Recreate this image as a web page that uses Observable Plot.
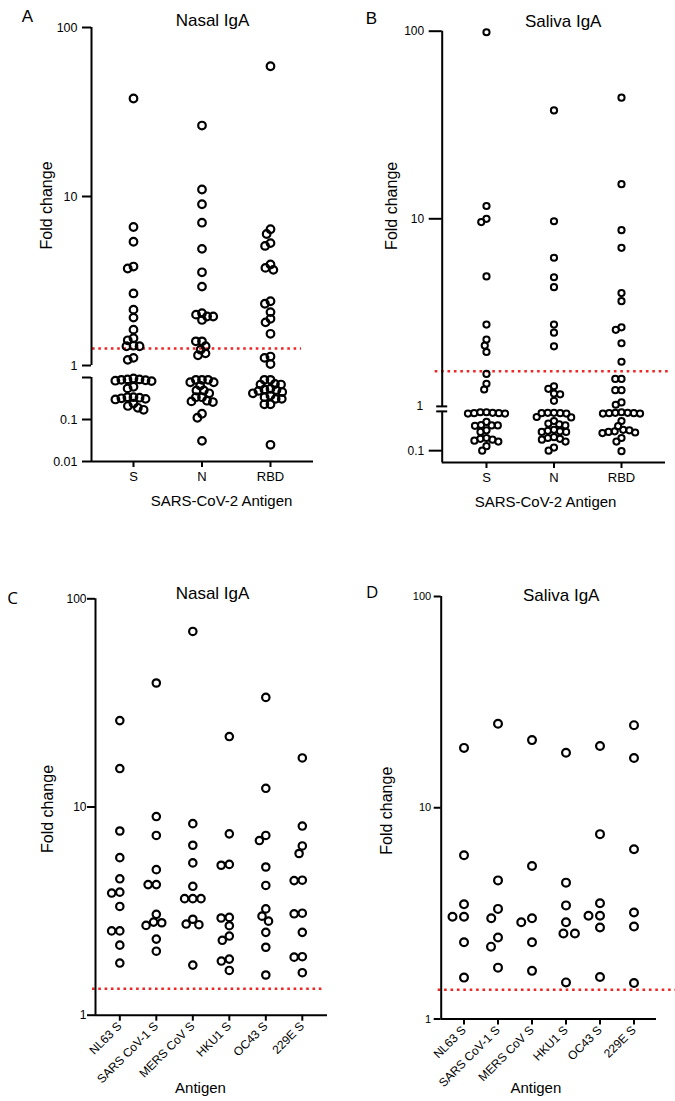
<!DOCTYPE html>
<html>
<head>
<meta charset="utf-8">
<script src="https://cdn.jsdelivr.net/npm/d3@7"></script>
<script src="https://cdn.jsdelivr.net/npm/@observablehq/plot@0.6"></script>
<style>
html, body { margin: 0; padding: 0; background: #fff; }
#root { position: relative; width: 675px; height: 1101px; overflow: hidden; font-family: "Liberation Sans", Arial, sans-serif; }
.panel { position: absolute; }
</style>
</head>
<body>
<div id="root"></div>
<script>
// ---------------- DATA ----------------
const cov2Antigens = ["S", "N", "RBD"];
const hcovAntigens = ["NL63 S", "SARS CoV-1 S", "MERS CoV S", "HKU1 S", "OC43 S", "229E S"];

// Panel A: Nasal IgA, SARS-CoV-2 antigens (fold change)
const nasalS = [38, 6.6, 5.4, 3.85, 3.75, 2.67, 2.14, 1.92, 1.63, 1.45, 1.41, 1.30, 1.30, 1.31, 1.11, 1.08,
  0.90, 0.86, 0.95, 0.88, 0.84, 0.90, 0.82, 0.60, 0.55, 0.34, 0.31, 0.33, 0.30, 0.34, 0.32, 0.24, 0.19, 0.21, 0.17];
const nasalN = [26.3, 11, 9.0, 7.0, 4.9, 3.56, 2.93, 2.04, 2.0, 1.95, 1.95, 1.86, 1.39, 1.39, 1.30, 1.24, 1.18, 1.15,
  0.77, 0.88, 0.77, 0.88, 0.88, 0.64, 0.49, 0.42, 0.49, 0.34, 0.34, 0.27, 0.28, 0.26, 0.137, 0.11, 0.031];
const nasalRBD = [59, 6.4, 6.0, 5.3, 5.1, 3.96, 3.78, 3.68, 2.40, 2.32, 2.07, 1.89, 1.80, 1.54, 1.13, 1.11, 1.02,
  0.88, 0.88, 0.68, 0.70, 0.68, 0.54, 0.50, 0.45, 0.52, 0.48, 0.42, 0.31, 0.37, 0.34, 0.31, 0.23, 0.23, 0.025];

// Panel B: Saliva IgA, SARS-CoV-2 antigens
const salivaS = [98.7, 11.7, 10.0, 9.6, 4.93, 2.73, 2.27, 2.11, 1.95, 1.49, 1.32, 1.23,
  0.92, 0.95, 0.90, 0.88, 0.88, 0.90, 0.95, 0.54, 0.45, 0.44, 0.43, 0.44, 0.33, 0.30, 0.21, 0.19, 0.20, 0.18, 0.17, 0.13, 0.10];
const salivaN = [37.8, 9.7, 6.2, 4.88, 4.32, 2.73, 2.47, 2.09, 1.28, 1.24, 1.17, 1.16, 1.07,
  0.90, 0.92, 0.88, 0.92, 0.90, 0.72, 0.70, 0.44, 0.49, 0.47, 0.57, 0.34, 0.30, 0.31, 0.30, 0.32, 0.22, 0.17, 0.20, 0.19, 0.21, 0.10, 0.12];
const salivaRBD = [44.2, 15.3, 8.7, 7.0, 4.02, 3.64, 2.64, 2.56, 2.17, 1.73, 1.40, 1.40, 1.22, 1.22, 1.05, 1.02,
  0.90, 0.92, 0.88, 0.95, 0.92, 0.88, 0.90, 0.57, 0.42, 0.34, 0.30, 0.29, 0.31, 0.28, 0.33, 0.21, 0.17, 0.097];

// Panel C: Nasal IgA, other coronavirus spike antigens
const nasalNL63 = [26.0, 15.3, 7.67, 5.71, 4.52, 3.90, 3.86, 3.33, 2.54, 2.54, 2.17, 1.78];
const nasalSARS1 = [39.4, 9.0, 7.3, 5.0, 4.24, 4.24, 3.05, 2.78, 2.80, 2.70, 2.32, 2.03];
const nasalMERS = [69.7, 8.32, 6.55, 5.39, 4.16, 3.63, 3.63, 3.63, 2.89, 2.72, 2.74, 1.74];
const nasalHKU1 = [21.8, 7.43, 5.25, 5.3, 2.93, 2.95, 2.69, 2.40, 2.29, 1.86, 1.82, 1.64];
const nasalOC43 = [33.6, 12.3, 7.3, 6.9, 5.15, 4.2, 3.24, 2.99, 2.83, 2.5, 2.12, 1.56];
const nasal229E = [17.2, 8.1, 6.5, 5.98, 4.43, 4.45, 3.07, 3.09, 2.5, 1.9, 1.91, 1.6];

// Panel D: Saliva IgA, other coronavirus spike antigens
const salivaNL63 = [19.2, 5.96, 3.49, 3.05, 3.05, 2.31, 1.57];
const salivaSARS1 = [25.0, 4.53, 3.32, 3.0, 2.43, 2.2, 1.75];
const salivaMERS = [20.9, 5.3, 2.87, 3.0, 2.31, 1.69];
const salivaHKU1 = [18.2, 4.42, 3.45, 2.87, 2.54, 2.54, 1.49];
const salivaOC43 = [19.6, 7.5, 3.53, 3.08, 3.08, 2.71, 1.58];
const saliva229E = [24.6, 17.2, 6.36, 3.19, 2.74, 1.48];

// Cut-off lines (fold change)
const cutoffA = 1.26, cutoffB = 1.54, cutoffC = 1.34, cutoffD = 1.375;

// Tick labels
const yTicksBrokenA = [100, 10, 1, 0.1, 0.01];
const yTickLabelsA = ["100", "10", "1", "0.1", "0.01"];
const yTicksLog = [100, 10, 1];
const yTickLabelsLog = ["100", "10", "1"];

// ---------------- HELPERS ----------------
const FONT = "'Liberation Sans', Arial, Helvetica, sans-serif";
const RED = "#ee2624";

// beeswarm (dodge) layout in pixel space, centered on each category
function swarmOffsets(ys, diam) {
  const order = ys.map((_, i) => i).sort((a, b) => ys[a] - ys[b]);
  const placed = [], out = new Array(ys.length).fill(0);
  const d2 = diam * diam;
  for (const i of order) {
    const y = ys[i];
    const near = placed.filter(p => Math.abs(p.y - y) < diam);
    const cands = [0];
    for (const p of near) {
      const dx = Math.sqrt(d2 - (p.y - y) ** 2);
      cands.push(p.x - dx, p.x + dx);
    }
    cands.sort((a, b) => Math.abs(a) - Math.abs(b) || a - b);
    const x = cands.find(c => near.every(p => (p.x - c) ** 2 + (p.y - y) ** 2 >= d2 - 1e-6));
    out[i] = x;
    placed.push({x, y});
  }
  return out;
}

function makePoints(cats, series, tf, xOpts, yOpts, diam) {
  const xs = Plot.scale({x: xOpts});
  const ys = Plot.scale({y: yOpts});
  const rows = [];
  cats.forEach((c, i) => {
    const vals = series[i];
    const off = swarmOffsets(vals.map(v => ys.apply(tf(v))), diam);
    vals.forEach((v, j) => rows.push({cat: c, value: v, xpos: xs.invert(xs.apply(i) + off[j])}));
  });
  return rows;
}

function label(text, o) {
  return Plot.text([text], {text: d => d, textAnchor: "middle", lineAnchor: "middle", fill: "#000", ...o});
}

function mount(svg, left, top) {
  const div = document.createElement("div");
  div.className = "panel";
  div.style.left = left + "px";
  div.style.top = top + "px";
  div.appendChild(svg);
  document.getElementById("root").appendChild(div);
}

const baseStyle = {fontFamily: FONT, fontSize: "12px", color: "#000", background: "transparent", overflow: "visible"};

// ---------------- PANEL A (broken log axis) ----------------
{
  const W = 337, H = 520, ml = 91, mr = 24, mt = 27, mb = 59;
  const k = 42 / 169, gap = 12 / 169; // lower-segment decade ratio and break gap (axis units)
  const tf = v => v >= 1 ? Math.log10(v) : Math.log10(v) * k - gap;
  const xOpts = {type: "linear", domain: [-0.613, 2.628], range: [ml, W - mr]};
  const yOpts = {type: "linear", domain: [tf(0.01), 2], range: [H - mb, mt]};
  const pts = makePoints(cov2Antigens, [nasalS, nasalN, nasalRBD], tf, xOpts, yOpts, 6.1);
  const tickVals = yTicksBrokenA.map(tf).concat([-gap]);
  const tickLab = new Map(yTicksBrokenA.map((v, i) => [tf(v), yTickLabelsA[i]]));
  const svg = Plot.plot({
    width: W, height: H, marginLeft: ml, marginRight: mr, marginTop: mt, marginBottom: mb,
    x: xOpts, y: yOpts, style: baseStyle,
    marks: [
      Plot.ruleY([cutoffA], {y: tf, stroke: RED, strokeWidth: 2.6, strokeDasharray: "2.6,3.7", insetLeft: 1, insetRight: 12}),
      Plot.ruleX([{x: xOpts.domain[0], y1: 0, y2: 2}, {x: xOpts.domain[0], y1: -gap, y2: tf(0.01)}], {x: "x", y1: "y1", y2: "y2", strokeWidth: 2}),
      Plot.ruleY([tf(0.01)], {strokeWidth: 2}),
      Plot.axisY({ticks: tickVals, tickFormat: t => tickLab.get(t) ?? "", tickSize: 9, tickPadding: 5, strokeWidth: 2, fontSize: 12.5, label: null}),
      Plot.axisX({ticks: [0, 1, 2], tickFormat: i => cov2Antigens[i], tickSize: 6, tickPadding: 4, strokeWidth: 2, fontSize: 13, label: null}),
      Plot.dot(pts, {x: "xpos", y: d => tf(d.value), r: 3.8, stroke: "#000", strokeWidth: 2.2, fill: "none"}),
      label("Nasal IgA", {frameAnchor: "top", dx: 10, dy: -7, fontSize: 17}),
      label("A", {frameAnchor: "top-left", dx: -64, dy: -11, fontSize: 17}),
      label("Fold change", {frameAnchor: "left", rotate: -90, dx: -45, dy: -39, fontSize: 16}),
      label("SARS-CoV-2 Antigen", {frameAnchor: "bottom", dx: 19, dy: 40, fontSize: 15})
    ]
  });
  mount(svg, 0, 0);
}

// ---------------- PANEL B (broken log axis) ----------------
{
  const W = 337, H = 520, ml = 103.7, mr = 10, mt = 30.7, mb = 58;
  const k = 39.3 / 187.65, gap = 5 / 187.65;
  const tf = v => v >= 1 ? Math.log10(v) : Math.log10(v) * k - gap;
  const xOpts = {type: "linear", domain: [-0.656, 2.652], range: [ml, W - mr]};
  const yOpts = {type: "linear", domain: [tf(0.05), 2], range: [H - mb, mt]};
  const pts = makePoints(cov2Antigens, [salivaS, salivaN, salivaRBD], tf, xOpts, yOpts, 6.2);
  const x0 = xOpts.domain[0];
  const svg = Plot.plot({
    width: W, height: H, marginLeft: ml, marginRight: mr, marginTop: mt, marginBottom: mb,
    x: xOpts, y: yOpts, style: baseStyle,
    marks: [
      Plot.ruleY([cutoffB], {y: tf, stroke: RED, strokeWidth: 2.6, strokeDasharray: "2.6,3.8", insetLeft: -7, insetRight: -5}),
      Plot.ruleX([{x: x0, y1: 0, y2: 2}, {x: x0, y1: -gap, y2: tf(0.05)}], {x: "x", y1: "y1", y2: "y2", strokeWidth: 2}),
      Plot.ruleY([{y: 0}, {y: -gap}], {y: "y", x1: x0, x2: x0, insetLeft: -5.5, insetRight: -5.5, strokeWidth: 2}),
      Plot.ruleY([tf(0.05)], {strokeWidth: 2}),
      Plot.axisY({ticks: [tf(100), tf(10), tf(0.1)], tickFormat: t => t === tf(100) ? "100" : t === tf(10) ? "10" : "0.1", tickSize: 13, tickPadding: 5, strokeWidth: 2, fontSize: 12, label: null}),
      Plot.axisY({ticks: [tf(1)], tickFormat: () => "1", tickSize: 0, tickPadding: 19, fontSize: 12, label: null}),
      Plot.axisX({ticks: [0, 1, 2], tickFormat: i => cov2Antigens[i], tickSize: 6, tickPadding: 4, strokeWidth: 2, fontSize: 13, label: null}),
      Plot.dot(pts, {x: "xpos", y: d => tf(d.value), r: 3.1, stroke: "#000", strokeWidth: 2, fill: "none"}),
      label("Saliva IgA", {frameAnchor: "top", dx: 9.3, dy: -10, fontSize: 17}),
      label("B", {frameAnchor: "top-left", dx: -70.7, dy: -12.7, fontSize: 17}),
      label("Fold change", {frameAnchor: "left", rotate: -90, dx: -50, dy: -41, fontSize: 16}),
      label("SARS-CoV-2 Antigen", {frameAnchor: "bottom", dx: -8.3, dy: 40, fontSize: 15})
    ]
  });
  mount(svg, 338, 0);
}

// ---------------- PANEL C (log axis) ----------------
{
  const W = 337, H = 541, ml = 95, mr = 10, mt = 38.3, mb = 86.3;
  const tf = v => v;
  const xOpts = {type: "linear", domain: [-0.666, 5.69], range: [ml, W - mr]};
  const yOpts = {type: "log", domain: [1, 100], range: [H - mb, mt]};
  const pts = makePoints(hcovAntigens, [nasalNL63, nasalSARS1, nasalMERS, nasalHKU1, nasalOC43, nasal229E], tf, xOpts, yOpts, 8.2);
  const svg = Plot.plot({
    width: W, height: H, marginLeft: ml, marginRight: mr, marginTop: mt, marginBottom: mb,
    x: xOpts, y: yOpts, style: baseStyle,
    marks: [
      Plot.ruleY([cutoffC], {stroke: RED, strokeWidth: 2.6, strokeDasharray: "2.6,3.7", insetLeft: -3, insetRight: 4}),
      Plot.ruleX([{x: xOpts.domain[0], y1: 1, y2: 100}], {x: "x", y1: "y1", y2: "y2", strokeWidth: 2}),
      Plot.ruleY([1], {strokeWidth: 2}),
      Plot.axisY({ticks: yTicksLog, tickFormat: (d) => yTickLabelsLog[yTicksLog.indexOf(d)], tickSize: 8, tickPadding: 1, strokeWidth: 2, fontSize: 12, label: null}),
      Plot.axisX({ticks: d3.range(hcovAntigens.length), tickFormat: i => hcovAntigens[i], tickRotate: -45, tickSize: 6, tickPadding: 3, strokeWidth: 2, fontSize: 12, label: null}),
      Plot.dot(pts, {x: "xpos", y: "value", r: 3.7, stroke: "#000", strokeWidth: 2.2, fill: "none"}),
      label("Nasal IgA", {frameAnchor: "top", dx: 1, dy: -5, fontSize: 17}),
      label("C", {frameAnchor: "top-left", dx: -83, dy: 0, fontSize: 17, fontFamily: "'Open Sans', sans-serif"}),
      label("Fold change", {frameAnchor: "left", rotate: -90, dx: -48, dy: 2, fontSize: 16}),
      label("Antigen", {frameAnchor: "bottom", dx: -11, dy: 73, fontSize: 15})
    ]
  });
  mount(svg, 0, 560);
}

// ---------------- PANEL D (log axis) ----------------
{
  const W = 337, H = 541, ml = 102.7, mr = 19, mt = 36, mb = 82.5;
  const tf = v => v;
  const xOpts = {type: "linear", domain: [-0.671, 5.662], range: [ml, W - mr]};
  const yOpts = {type: "log", domain: [1, 100], range: [H - mb, mt]};
  const pts = makePoints(hcovAntigens, [salivaNL63, salivaSARS1, salivaMERS, salivaHKU1, salivaOC43, saliva229E], tf, xOpts, yOpts, 11.5);
  const svg = Plot.plot({
    width: W, height: H, marginLeft: ml, marginRight: mr, marginTop: mt, marginBottom: mb,
    x: xOpts, y: yOpts, style: baseStyle,
    marks: [
      Plot.ruleY([cutoffD], {stroke: RED, strokeWidth: 2.6, strokeDasharray: "2.6,3.8", insetLeft: -3, insetRight: -19}),
      Plot.ruleX([{x: xOpts.domain[0], y1: 1, y2: 100}], {x: "x", y1: "y1", y2: "y2", strokeWidth: 2}),
      Plot.ruleY([1], {strokeWidth: 2}),
      Plot.axisY({ticks: yTicksLog, tickFormat: (d) => yTickLabelsLog[yTicksLog.indexOf(d)], tickSize: 7, tickPadding: 3, strokeWidth: 2, fontSize: 11, label: null}),
      Plot.axisX({ticks: d3.range(hcovAntigens.length), tickFormat: i => hcovAntigens[i], tickRotate: -45, tickSize: 6, tickPadding: 3, strokeWidth: 2, fontSize: 12, label: null}),
      Plot.dot(pts, {x: "xpos", y: "value", r: 3.9, stroke: "#000", strokeWidth: 2.2, fill: "none"}),
      label("Saliva IgA", {frameAnchor: "top", dx: 12.3, dy: -1, fontSize: 17}),
      label("D", {frameAnchor: "top-left", dx: -69, dy: -4, fontSize: 17, fontFamily: "'Open Sans', sans-serif"}),
      label("Fold change", {frameAnchor: "left", rotate: -90, dx: -54, dy: 3, fontSize: 16}),
      label("Antigen", {frameAnchor: "bottom", dx: -13, dy: 69.5, fontSize: 15})
    ]
  });
  mount(svg, 338, 560);
}
</script>
</body>
</html>
